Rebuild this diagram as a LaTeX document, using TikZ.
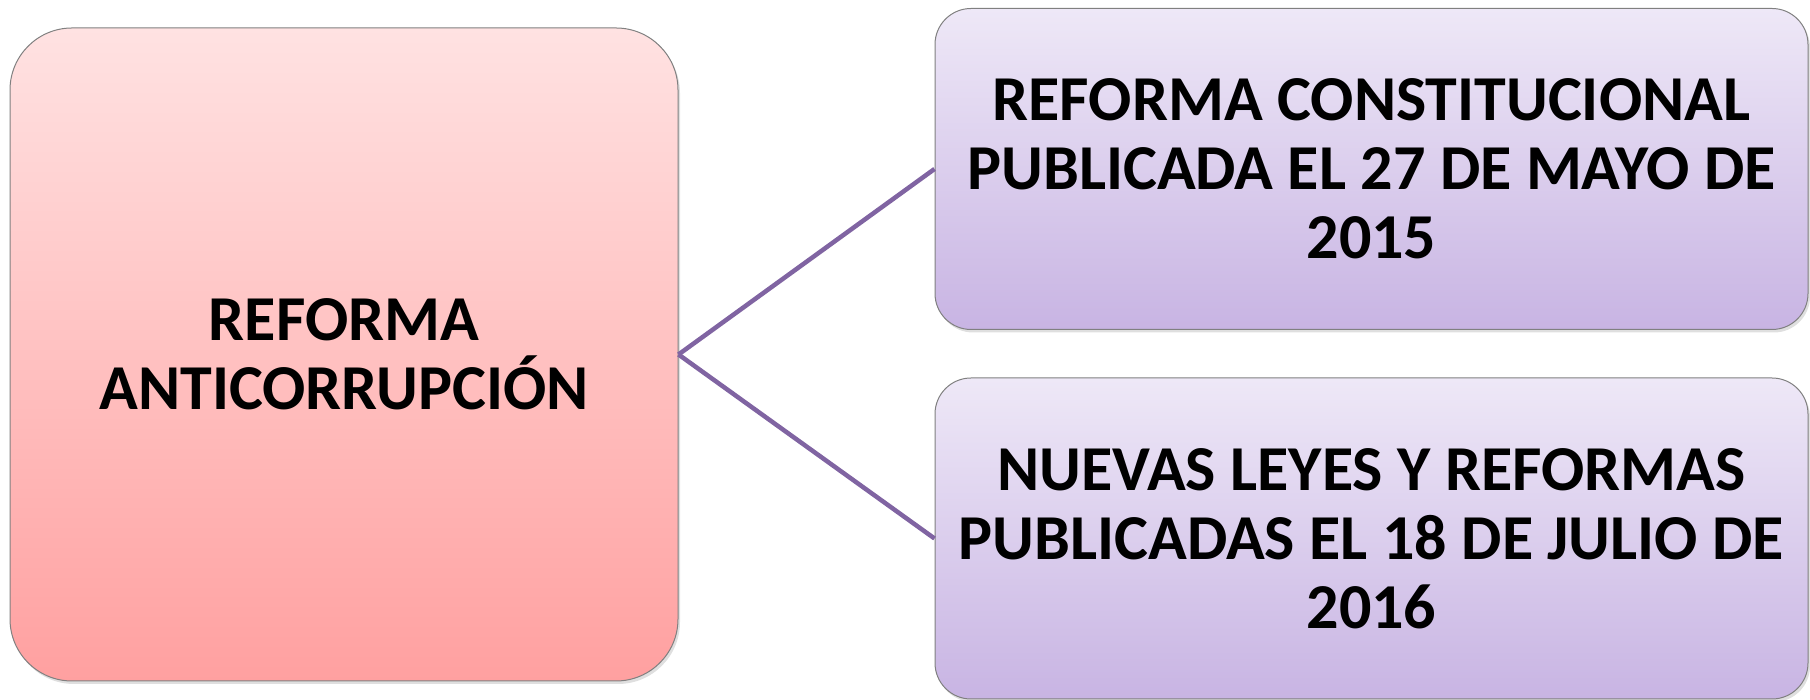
\documentclass[tikz,border=0pt]{standalone}
\usepackage{fontspec}
\setmainfont{Carlito}
\usetikzlibrary{shadows}
\definecolor{pinktop}{HTML}{FFE2E2}
\definecolor{pinkbot}{HTML}{FFA0A0}
\definecolor{lilactop}{HTML}{EEE8F7}
\definecolor{lilacbot}{HTML}{C8B4E3}
\definecolor{linkpurple}{HTML}{8064A2}
\begin{document}
\begin{tikzpicture}[x=1pt, y=1pt,
    box/.style={draw=black!50, line width=1pt, align=center,
      font=\bfseries\fontsize{64}{69}\selectfont, inner sep=0pt,
      drop shadow={opacity=0.25, shadow xshift=2pt, shadow yshift=-3pt}},
    mainbox/.style={box, rounded corners=62pt, top color=pinktop, bottom color=pinkbot,
      minimum width=668pt, minimum height=653pt},
    datebox/.style={box, rounded corners=36pt, top color=lilactop, bottom color=lilacbot,
      minimum width=873pt, minimum height=321pt},
    link/.style={draw=linkpurple, line width=4.5pt}]
    \useasboundingbox (0,0) rectangle (1810,700);

    \node[mainbox] (reforma) at (344,345.5) {REFORMA\\ANTICORRUPCI\'ON};

    \node[datebox] (constitucional) at (1371.5,531) {REFORMA CONSTITUCIONAL\\PUBLICADA EL 27 DE MAYO DE\\2015};
    \node[datebox] (leyes) at (1371.5,161.5) {NUEVAS LEYES Y REFORMAS\\PUBLICADAS EL 18 DE JULIO DE\\2016};

    \draw[link] (reforma.east) -- (constitucional.west);
    \draw[link] (reforma.east) -- (leyes.west);
\end{tikzpicture}
\end{document}
